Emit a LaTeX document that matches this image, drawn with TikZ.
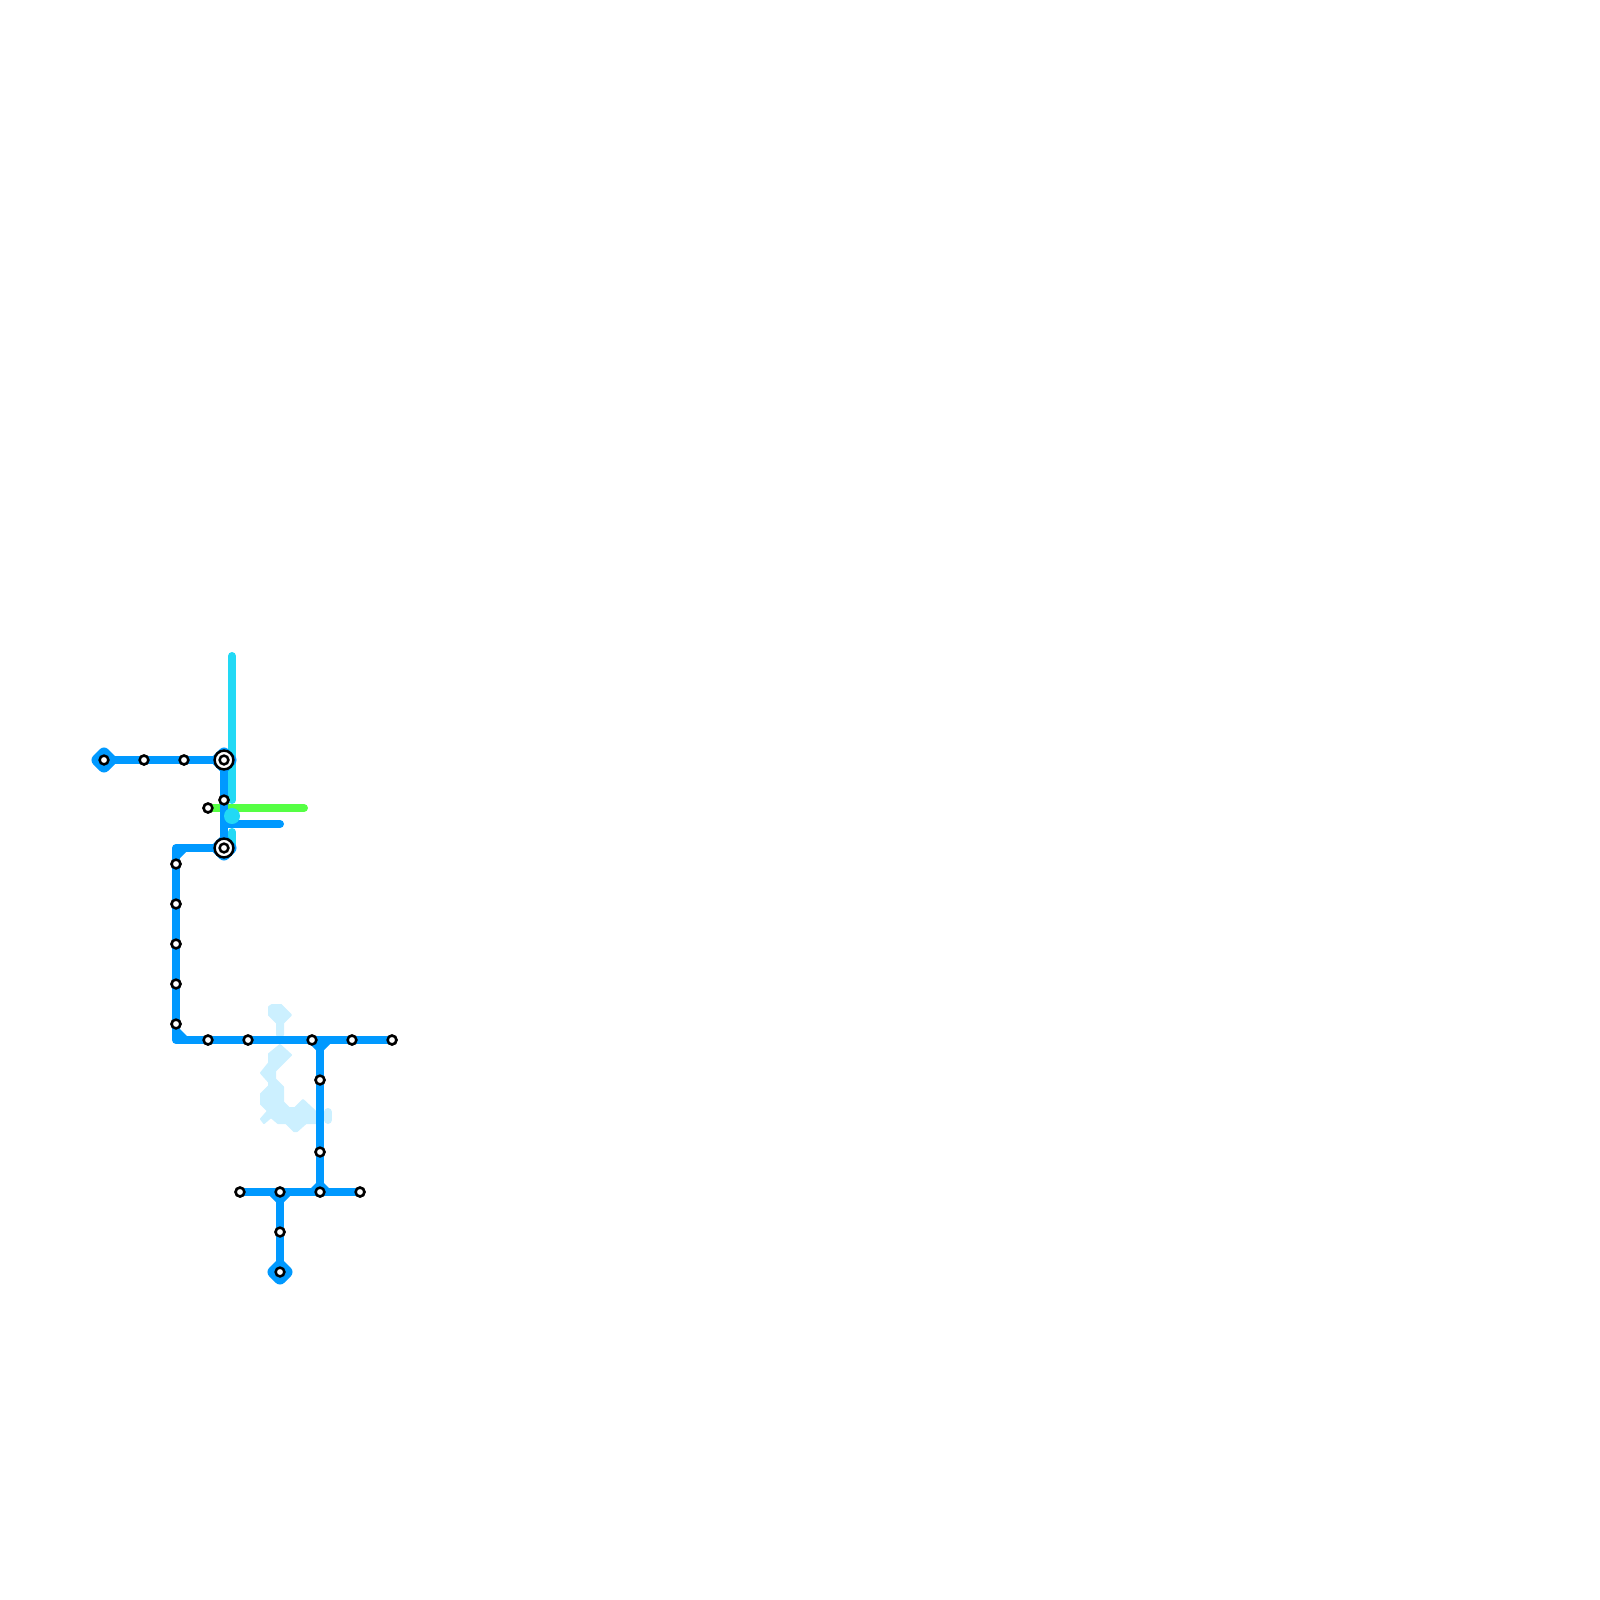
\documentclass[tikz,border=0pt]{standalone}
\definecolor{metroblue}{HTML}{0099FF}
\definecolor{metrocyan}{HTML}{22D9F5}
\definecolor{metrogreen}{HTML}{55FF44}
\definecolor{metropale}{HTML}{CCF0FF}
\tikzset{
  route/.style={line width=8pt,line cap=round,line join=round},
  stn/.style={circle,draw=black,fill=white,line width=2.5pt,minimum size=8.8pt,inner sep=0pt},
  hubouter/.style={circle,draw=black,fill=white,line width=2.5pt,minimum size=18.8pt,inner sep=0pt},
  wedge/.style={fill=metroblue,line join=round},
  blob/.style={fill=metropale,draw=metropale,line width=2pt,line join=round},
}
\begin{document}
\begin{tikzpicture}[x=1pt,y=-1pt]
\useasboundingbox (0,0) rectangle (1600,1600);
% pale blob
\path[blob] (272,1005) -- (281,1005) -- (291,1015) -- (283,1023) -- (283,1035) -- (277,1035) -- (277,1023) -- (269,1015) -- (269,1007) -- cycle;
\path[blob] (280,1045) -- (291,1055) -- (275,1071) -- (275,1079) -- (283,1087) -- (283,1102) -- (289,1108) -- (295,1108) -- (303,1100) -- (318,1114) -- (318,1123) -- (306,1123) -- (297,1131) -- (294,1131) -- (286,1123) -- (278,1123) -- (271,1117) -- (264,1123) -- (261,1119) -- (268,1111) -- (261,1104) -- (261,1094) -- (269,1086) -- (269,1082) -- (261,1073) -- (269,1063) -- (269,1054) -- cycle;
\coordinate (pa) at (328,1112);
\coordinate (pb) at (328,1120);
\draw[route,metropale] (pa) -- (pb);
% cyan line
\coordinate (ca) at (232,656);
\coordinate (cb) at (232,800);
\coordinate (cc) at (232,832);
\coordinate (cd) at (232,848);
\draw[route,metrocyan] (ca) -- (cb);
\draw[route,metrocyan] (cc) -- (cd);
% green line
\coordinate (ga) at (304,808);
\node[stn] (g1) at (208,808) {};
\draw[route,metrogreen] (g1.center) -- (ga);
% stations
\node[stn] (a1) at (104,760) {};
\node[stn] (a2) at (144,760) {};
\node[stn] (a3) at (184,760) {};
\node[hubouter] (h1) at (224,760) {};
\node[stn] (b1) at (224,800) {};
\node[hubouter] (h2) at (224,848) {};
\coordinate (c0) at (176,848);
\node[stn] (c1) at (176,864) {};
\node[stn] (c2) at (176,904) {};
\node[stn] (c3) at (176,944) {};
\node[stn] (c4) at (176,984) {};
\node[stn] (c5) at (176,1024) {};
\coordinate (c6) at (176,1040);
\node[stn] (d1) at (208,1040) {};
\node[stn] (d2) at (248,1040) {};
\node[stn] (d3) at (312,1040) {};
\node[stn] (d4) at (352,1040) {};
\node[stn] (d5) at (392,1040) {};
\coordinate (e0) at (320,1040);
\node[stn] (e1) at (320,1080) {};
\node[stn] (e2) at (320,1152) {};
\node[stn] (e3) at (320,1192) {};
\node[stn] (f1) at (240,1192) {};
\node[stn] (f2) at (280,1192) {};
\node[stn] (f3) at (360,1192) {};
\node[stn] (k1) at (280,1232) {};
\node[stn] (k2) at (280,1272) {};
\coordinate (m1) at (280,824);
% blue wedges and terminal diamonds
\fill[wedge,rounded corners=6pt] (89,760) -- (104,745) -- (119,760) -- (104,775) -- cycle;
\fill[wedge,rounded corners=6pt] (265,1272) -- (280,1257) -- (295,1272) -- (280,1287) -- cycle;
\fill[wedge,rounded corners=6pt] (209,760) -- (224,745) -- (239,760) -- (224,775) -- cycle;
\fill[wedge,rounded corners=6pt] (209,848) -- (224,833) -- (239,848) -- (224,863) -- cycle;
\fill[wedge] (176,848) -- (186,848) -- (186,852) -- (180,858) -- (176,858) -- cycle;
\fill[wedge] (180,1029) -- (187,1036) -- (187,1040) -- (176,1040) -- (176,1029) -- cycle;
\fill[wedge] (310,1040) -- (330,1040) -- (330,1044) -- (324,1050) -- (316,1050) -- (310,1044) -- cycle;
\fill[wedge] (310,1192) -- (310,1189) -- (316,1183) -- (324,1183) -- (330,1189) -- (330,1192) -- cycle;
\fill[wedge] (270,1192) -- (290,1192) -- (290,1196) -- (284,1202) -- (276,1202) -- (270,1196) -- cycle;
% blue lines
\draw[route,metroblue] (a1.center) -- (a2.center) -- (a3.center) -- (h1.center);
\draw[route,metroblue] (h1.center) -- (b1.center) -- (h2.center);
\draw[route,metroblue] (b1.center |- m1) -- (m1);
\draw[route,metroblue] (h2.center) -- (c0) -- (c1.center) -- (c2.center) -- (c3.center) -- (c4.center) -- (c5.center) -- (c6) -- (d1.center) -- (d2.center) -- (d3.center) -- (d4.center) -- (d5.center);
\draw[route,metroblue] (e0) -- (e1.center) -- (e2.center) -- (e3.center);
\draw[route,metroblue] (f1.center) -- (f2.center) -- (e3.center) -- (f3.center);
\draw[route,metroblue] (f2.center) -- (k1.center) -- (k2.center);
% cyan stop
\fill[metrocyan] (232,816) circle (8);
% station marks on top of the lines
\foreach \n in {g1,a1,a2,a3,b1,c1,c2,c3,c4,c5,d1,d2,d3,d4,d5,e1,e2,e3,f1,f2,f3,k1,k2}{
  \node[stn] at (\n.center) {};
}
\node[hubouter] at (h1.center) {};
\node[stn] at (h1.center) {};
\node[hubouter] at (h2.center) {};
\node[stn] at (h2.center) {};
\end{tikzpicture}
\end{document}
